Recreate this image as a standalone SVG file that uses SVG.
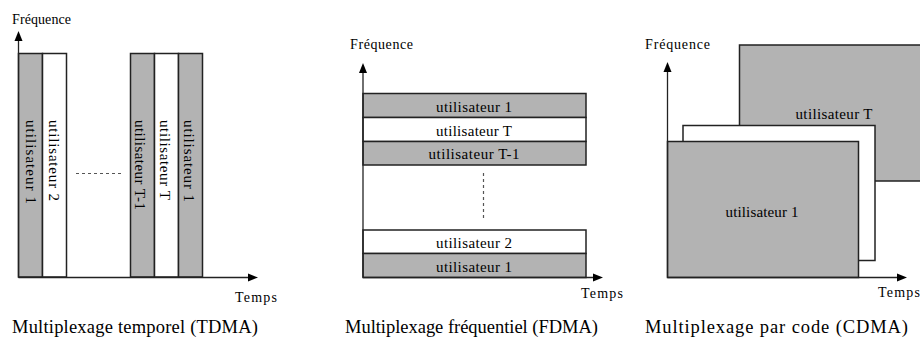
<svg xmlns="http://www.w3.org/2000/svg" width="920" height="345" viewBox="0 0 920 345">
  <defs>
    <style>
      text { font-family: "Liberation Serif", "DejaVu Serif", serif; fill: #000; }
      .axis { stroke: #222; stroke-width: 1.3; fill: none; }
      .head { fill: #000; }
      .grey { fill: #b3b3b3; stroke: #222; stroke-width: 1.5; }
      .white { fill: #fff; stroke: #222; stroke-width: 1.5; }
      .dash { stroke: #555; stroke-width: 1.2; stroke-dasharray: 3 3; fill: none; }
      .lbl { font-size: 15px; }
      .ax { font-size: 14px; }
      .title { font-size: 18.5px; }
    </style>
  </defs>

  <!-- TDMA panel -->
  <g id="tdma">
    <g id="tdma-slot-1">
      <rect class="grey" x="18.5" y="53.5" width="24" height="223.5"/>
      <text class="lbl" transform="translate(25.5,120) rotate(90)" textLength="84" lengthAdjust="spacing">utilisateur 1</text>
    </g>
    <g id="tdma-slot-2">
      <rect class="white" x="42.5" y="53.5" width="24" height="223.5"/>
      <text class="lbl" transform="translate(49,120) rotate(90)" textLength="81" lengthAdjust="spacing">utilisateur 2</text>
    </g>
    <g id="tdma-slot-t1">
      <rect class="grey" x="130.5" y="53.5" width="24" height="223.5"/>
      <text class="lbl" transform="translate(134.5,120) rotate(90)" textLength="90" lengthAdjust="spacing">utilisateur T-1</text>
    </g>
    <g id="tdma-slot-t">
      <rect class="white" x="154.5" y="53.5" width="24" height="223.5"/>
      <text class="lbl" transform="translate(160,120) rotate(90)" textLength="80" lengthAdjust="spacing">utilisateur T</text>
    </g>
    <g id="tdma-slot-1b">
      <rect class="grey" x="178.5" y="53.5" width="24" height="223.5"/>
      <text class="lbl" transform="translate(183.5,120) rotate(90)" textLength="82" lengthAdjust="spacing">utilisateur 1</text>
    </g>
    <g id="tdma-axes">
      <line class="axis" x1="18.5" y1="277.5" x2="18.5" y2="39"/>
      <polygon class="head" points="18.5,31 14.5,41 22.5,41"/>
      <line class="axis" x1="18.5" y1="277.5" x2="249" y2="277.5"/>
      <polygon class="head" points="258,277.5 248,273.5 248,281.5"/>
      <line class="dash" x1="76" y1="173.5" x2="122" y2="173.5"/>
    </g>
    <text class="ax" x="12" y="24" textLength="59" lengthAdjust="spacing">Fréquence</text>
    <text class="ax" x="235" y="301.5" textLength="42" lengthAdjust="spacing">Temps</text>
    <text class="title" x="12" y="333" textLength="246" lengthAdjust="spacing">Multiplexage temporel (TDMA)</text>
  </g>

  <!-- FDMA panel -->
  <g id="fdma">
    <g id="fdma-band-1">
      <rect class="grey" x="363" y="93.5" width="223" height="24"/>
      <text class="lbl" x="474" y="111.5" text-anchor="middle" textLength="76" lengthAdjust="spacing">utilisateur 1</text>
    </g>
    <g id="fdma-band-t">
      <rect class="white" x="363" y="117.5" width="223" height="24"/>
      <text class="lbl" x="474" y="135.5" text-anchor="middle" textLength="76" lengthAdjust="spacing">utilisateur T</text>
    </g>
    <g id="fdma-band-t1">
      <rect class="grey" x="363" y="141.5" width="223" height="23.5"/>
      <text class="lbl" x="474" y="159" text-anchor="middle" textLength="91" lengthAdjust="spacing">utilisateur T-1</text>
    </g>
    <g id="fdma-band-2">
      <rect class="white" x="363" y="230" width="223" height="23.5"/>
      <text class="lbl" x="474" y="247.5" text-anchor="middle" textLength="76" lengthAdjust="spacing">utilisateur 2</text>
    </g>
    <g id="fdma-band-1b">
      <rect class="grey" x="363" y="253.5" width="223" height="24"/>
      <text class="lbl" x="474" y="271.5" text-anchor="middle" textLength="76" lengthAdjust="spacing">utilisateur 1</text>
    </g>
    <g id="fdma-axes">
      <line class="axis" x1="363" y1="277.5" x2="363" y2="71"/>
      <polygon class="head" points="363,63 359,73 367,73"/>
      <line class="axis" x1="363" y1="277.5" x2="594" y2="277.5"/>
      <polygon class="head" points="603,277.5 593,273.5 593,281.5"/>
      <line class="dash" x1="483.5" y1="173" x2="483.5" y2="220"/>
    </g>
    <text class="ax" x="350" y="48.5" textLength="63" lengthAdjust="spacing">Fréquence</text>
    <text class="ax" x="581" y="298" textLength="42" lengthAdjust="spacing">Temps</text>
    <text class="title" x="345" y="333" textLength="253" lengthAdjust="spacing">Multiplexage fréquentiel (FDMA)</text>
  </g>

  <!-- CDMA panel -->
  <g id="cdma">
    <g id="cdma-user-t">
      <rect class="grey" x="739.5" y="45" width="185" height="136"/>
      <text class="lbl" x="834" y="119" text-anchor="middle" textLength="77" lengthAdjust="spacing">utilisateur T</text>
    </g>
    <g id="cdma-user-mid">
      <rect class="white" x="683" y="125.5" width="192" height="135"/>
    </g>
    <g id="cdma-user-1">
      <rect class="grey" x="667.5" y="141.5" width="191" height="136"/>
      <text class="lbl" x="762" y="216.5" text-anchor="middle" textLength="73" lengthAdjust="spacing">utilisateur 1</text>
    </g>
    <g id="cdma-axes">
      <line class="axis" x1="667.5" y1="277.5" x2="667.5" y2="70"/>
      <polygon class="head" points="667.5,62 663.5,72 671.5,72"/>
      <line class="axis" x1="667.5" y1="277.5" x2="898" y2="277.5"/>
      <polygon class="head" points="907,277.5 897,273.5 897,281.5"/>
    </g>
    <text class="ax" x="645" y="48.5" textLength="65" lengthAdjust="spacing">Fréquence</text>
    <text class="ax" x="878" y="296.5" textLength="42" lengthAdjust="spacing">Temps</text>
    <text class="title" x="645" y="333" textLength="263" lengthAdjust="spacing">Multiplexage par code (CDMA)</text>
  </g>
</svg>
